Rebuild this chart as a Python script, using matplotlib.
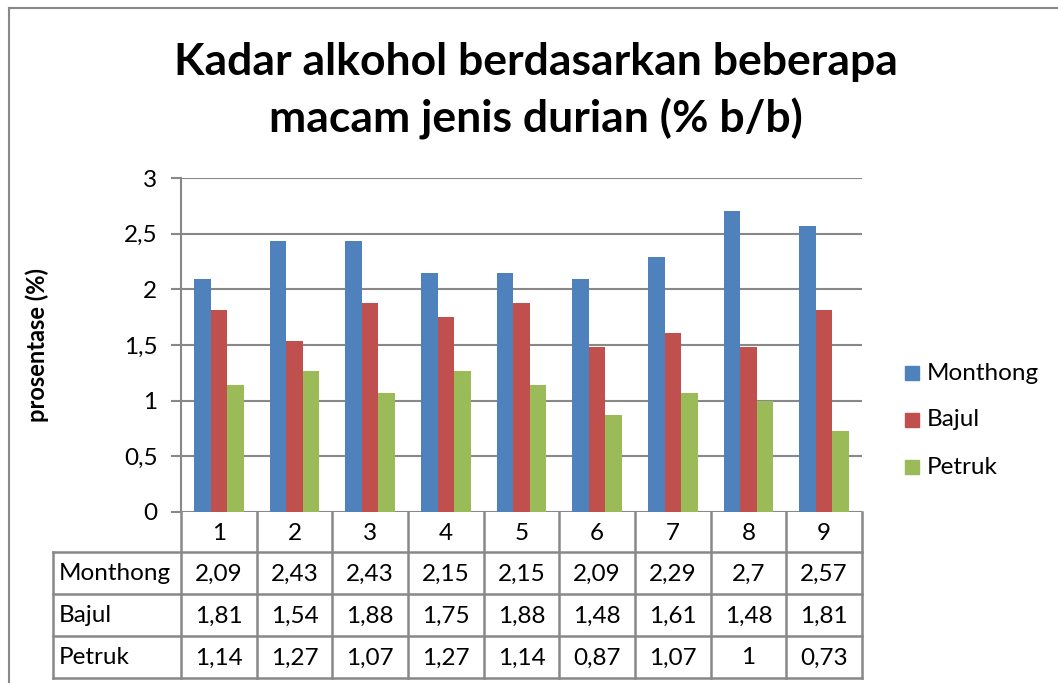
import numpy as np
import matplotlib
matplotlib.use('Agg')
import matplotlib.pyplot as plt

# data
categories = ['1', '2', '3', '4', '5', '6', '7', '8', '9']
series_names = ['Monthong', 'Bajul', 'Petruk']
monthong = [2.09, 2.43, 2.43, 2.15, 2.15, 2.09, 2.29, 2.7, 2.57]
bajul = [1.81, 1.54, 1.88, 1.75, 1.88, 1.48, 1.61, 1.48, 1.81]
petruk = [1.14, 1.27, 1.07, 1.27, 1.14, 0.87, 1.07, 1.0, 0.73]
yticks = [0, 0.5, 1, 1.5, 2, 2.5, 3]

colors = ['#4F81BD', '#C0504D', '#9BBB59']
grid_c = '#888888'
fs = 17.5
plt.rcParams['font.family'] = ['Lato', 'DejaVu Sans']

W, H = 1058, 683
fig = plt.figure(figsize=(W / 100, H / 100), dpi=100)

# plot area in pixels
px_l, px_r, px_t, px_b = 181, 862, 178, 512
ax = fig.add_axes([px_l / W, 1 - px_b / H, (px_r - px_l) / W, (px_b - px_t) / H])

x = np.arange(len(categories))
bw = 0.22
for i, vals in enumerate([monthong, bajul, petruk]):
    ax.bar(x + (i - 1) * bw, vals, bw, color=colors[i], label=series_names[i], zorder=3)

ax.set_xlim(-0.5, len(categories) - 0.5)
ax.set_ylim(0, 3)
ax.set_yticks(yticks)
ax.set_yticklabels([f'{t:g}'.replace('.', ',') for t in yticks], fontsize=fs)
ax.set_xticks([])
ax.tick_params(axis='y', length=0, pad=17)
ax.yaxis.grid(True, color=grid_c, lw=1.5, zorder=0)
for s in ['top', 'right', 'bottom']:
    ax.spines[s].set_visible(False)
ax.spines['left'].set_color(grid_c)
ax.spines['left'].set_linewidth(1.5)

# overlay in pixel coordinates for table, title, frame
ov = fig.add_axes([0, 0, 1, 1], zorder=-1)
ov.set_xlim(0, W)
ov.set_ylim(H, 0)
ov.axis('off')

ov.text(37, 345, 'prosentase (%)', rotation=90, ha='center', va='center',
        fontsize=17, fontweight='bold')

# short ticks left of the axis
for t in yticks:
    yp = px_b - t / 3 * (px_b - px_t)
    ov.plot([172, px_l], [yp, yp], color=grid_c, lw=1.5)

# data table
cols = np.linspace(px_l, px_r, len(categories) + 1)
rows = [px_b, 552, 594, 636, 678]
lab_l = 53
tbl_kw = dict(color=grid_c, lw=1.8)
for cx in cols:
    ov.plot([cx, cx], [px_b, rows[-1]], **tbl_kw)
ov.plot([lab_l, lab_l], [rows[1], rows[-1]], **tbl_kw)
ov.plot([lab_l, px_r], [rows[1], rows[1]], **tbl_kw)
for ry in rows[2:]:
    ov.plot([lab_l, px_r], [ry, ry], **tbl_kw)
for j, c in enumerate(categories):
    ov.text((cols[j] + cols[j + 1]) / 2, (rows[0] + rows[1]) / 2 + 1, c,
            ha='center', va='center', fontsize=fs)
for r, (name, vals) in enumerate(zip(series_names, [monthong, bajul, petruk])):
    yc = (rows[r + 1] + rows[r + 2]) / 2 + 1
    ov.text(lab_l + 6, yc, name, ha='left', va='center', fontsize=fs)
    for j, v in enumerate(vals):
        ov.text((cols[j] + cols[j + 1]) / 2, yc, f'{v:g}'.replace('.', ','),
                ha='center', va='center', fontsize=fs)

# legend
for k, name in enumerate(series_names):
    ly = [373, 420, 467][k]
    ov.add_patch(plt.Rectangle((905, ly - 7), 14, 14, color=colors[k]))
    ov.text(927, ly, name, ha='left', va='center', fontsize=fs)

# title
ov.text(536, 75, 'Kadar alkohol berdasarkan beberapa', ha='center', va='baseline',
        fontsize=32, fontweight='bold')
ov.text(536, 133, 'macam jenis durian (% b/b)', ha='center', va='baseline',
        fontsize=32, fontweight='bold')

# chart frame
ov.plot([8.5, 8.5], [7.5, H], color='#888888', lw=1.5)
ov.plot([8.5, W], [7.5, 7.5], color='#888888', lw=1.5)

fig.savefig('out.png', dpi=100)
